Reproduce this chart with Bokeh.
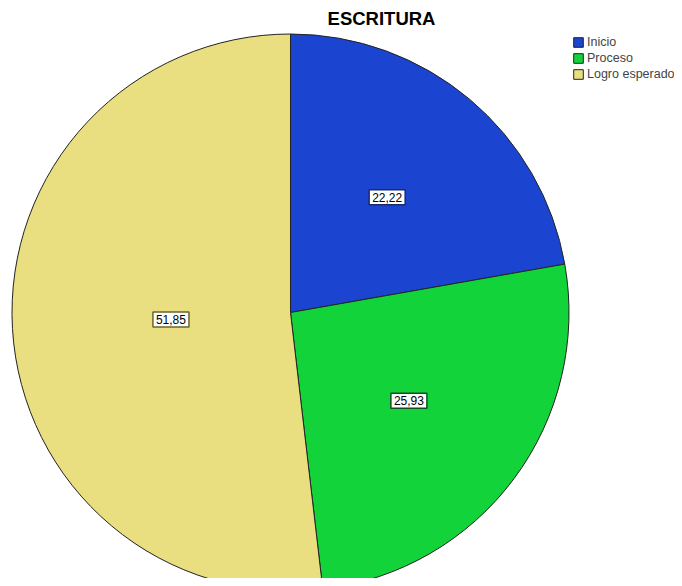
import math
from bokeh.plotting import figure
from bokeh.models import Range1d, ColumnDataSource, Label, Legend, LegendItem
from bokeh.core.properties import value
from bokeh.embed import file_html
from bokeh.resources import INLINE

# Data
categories = ["Inicio", "Proceso", "Logro esperado"]
percents = [22.22, 25.93, 51.85]
colors = ["#1b45d0", "#12d43a", "#e9df80"]
label_borders = ["#1a2a6a", "#105020", "#6a6430"]
label_radius_frac = [0.54, 0.53, 0.43]

W, H = 674, 578
p = figure(width=W, height=H, output_backend="svg", toolbar_location=None,
           x_range=Range1d(0, W), y_range=Range1d(0, H),
           min_border=0, outline_line_color=None)
p.axis.visible = False
p.grid.visible = False
p.background_fill_color = "white"

cx, cy, R = 290, H - 312, 278.5

total = sum(percents)
starts, ends, lx, ly, texts = [], [], [], [], []
cum = 0.0
for v, f in zip(percents, label_radius_frac):
    a0 = math.pi / 2 - 2 * math.pi * cum / total
    cum += v
    a1 = math.pi / 2 - 2 * math.pi * cum / total
    starts.append(a0)
    ends.append(a1)
    mid = (a0 + a1) / 2
    lx.append(cx + f * R * math.cos(mid))
    ly.append(cy + f * R * math.sin(mid))
    texts.append(f"{v:.2f}".replace(".", ","))

src = ColumnDataSource(dict(start=starts, end=ends, color=colors, cat=categories,
                            lx=lx, ly=ly, text=texts, bc=label_borders))

wr = p.wedge(x=cx, y=cy, radius=R, start_angle="start", end_angle="end",
             direction="clock", fill_color="color", line_color="#222222",
             line_width=1, source=src)

p.text(x="lx", y="ly", text="text", source=src,
       text_align="center", text_baseline="middle",
       text_font=value("Liberation Sans"), text_font_size="12px",
       text_color="black", background_fill_color="white",
       border_line_color="bc", border_line_width=1.5, padding=3)

title = Label(x=381, y=H - 18, text="ESCRITURA", text_align="center",
              text_baseline="middle", text_font="Liberation Sans",
              text_font_style="bold", text_font_size="18.5px", text_color="black")
p.add_layout(title)

items = [LegendItem(label=c, renderers=[wr], index=i) for i, c in enumerate(categories)]
legend = Legend(items=items, location=(572, 496), orientation="vertical",
                glyph_width=12, glyph_height=12, label_height=16, spacing=0,
                padding=0, margin=0, label_standoff=3,
                label_text_font="Liberation Sans", label_text_font_size="12.5px",
                background_fill_alpha=0, border_line_color=None)
p.add_layout(legend)

open("out.html", "w").write(file_html(p, INLINE))
